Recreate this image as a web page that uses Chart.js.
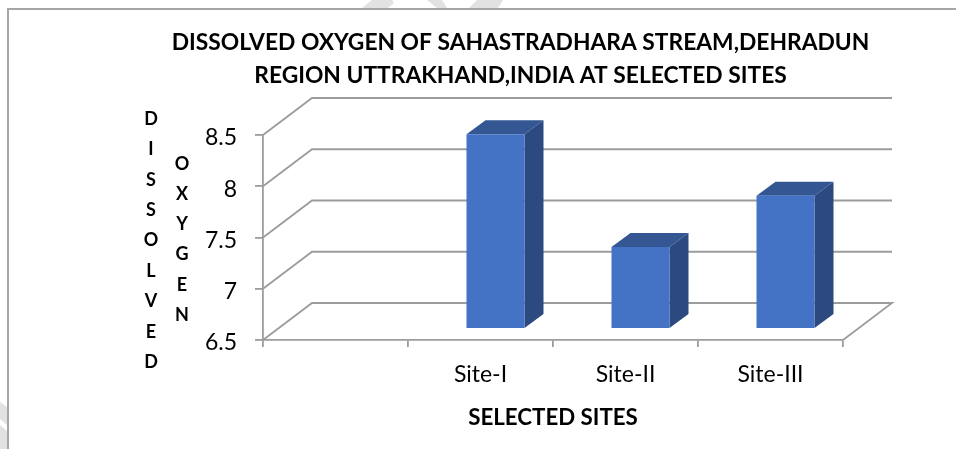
<!DOCTYPE html>
<html><head><meta charset="utf-8">
<style>html,body{margin:0;padding:0;background:#fff;overflow:hidden}canvas{display:block}</style>
<script src="https://cdn.jsdelivr.net/npm/chart.js@4"></script>
</head><body>
<canvas id="c" width="956" height="449"></canvas>
<script>
const categories = ['', 'Site-I', 'Site-II', 'Site-III'];
const oxygenValues = [null, 8.4, 7.3, 7.8];
const yTicks = [6.5, 7, 7.5, 8, 8.5];
const titleLines = ['DISSOLVED OXYGEN OF SAHASTRADHARA STREAM,DEHRADUN', 'REGION UTTRAKHAND,INDIA AT SELECTED SITES'];
const xTitle = 'SELECTED SITES';
const yTitleWord1 = 'DISSOLVED';
const yTitleWord2 = 'OXYGEN';

const FONT = 'Lato, Carlito, Calibri, sans-serif';
const GRID = '#9c9c9c';
const LINE = 1.8;
const WALL_DX = 49, WALL_DY = -37;
const BAR_DX = 15, BAR_DY = -11;
const SIDE_DX = 19, SIDE_DY = -14;

const threeD = {
  id: 'threeD',
  beforeDraw(chart) {
    const c = chart.ctx;
    c.save();
    c.fillStyle = '#e2e2e2';
    [[[362,8],[372,0],[392,0],[394,3],[388,8]],
     [[427,0],[442,0],[447,8],[437,8]],
     [[477,0],[503,0],[498,8],[469,8]],
     [[0,402],[7,407],[7,425],[0,419]],
     [[0,425],[7,431],[7,449],[0,449]]].forEach(p => {
      c.beginPath();
      p.forEach((q, i) => i ? c.lineTo(q[0], q[1]) : c.moveTo(q[0], q[1]));
      c.closePath(); c.fill();
    });
    c.strokeStyle = '#a6a6a6'; c.lineWidth = 2;
    c.beginPath(); c.moveTo(8, 449); c.lineTo(8, 9); c.lineTo(956, 9); c.stroke();
    c.font = 'bold 18px ' + FONT;
    c.fillStyle = '#000'; c.textAlign = 'center'; c.textBaseline = 'middle';
    [...yTitleWord1].forEach((ch, i) => c.fillText(ch, 151, 119 + i * 30.4));
    [...yTitleWord2].forEach((ch, i) => c.fillText(ch, 182, 164 + i * 30.2));
    c.restore();
  },
  beforeDatasetsDraw(chart) {
    const c = chart.ctx, { left, right } = chart.chartArea, y = chart.scales.y;
    c.save();
    c.strokeStyle = GRID; c.lineWidth = LINE;
    yTicks.forEach(v => {
      const py = y.getPixelForValue(v);
      c.beginPath();
      c.moveTo(left, py);
      c.lineTo(left + WALL_DX, py + WALL_DY);
      c.lineTo(right + WALL_DX, py + WALL_DY);
      if (v === yTicks[0]) c.lineTo(right, py);
      c.stroke();
    });
    c.restore();
  },
  beforeDatasetDraw(chart) {
    const c = chart.ctx;
    c.save();
    c.translate(BAR_DX, BAR_DY);
    chart.getDatasetMeta(0).data.forEach((el, i) => {
      if (oxygenValues[i] === null) return;
      const x1 = el.x - el.width / 2, x2 = el.x + el.width / 2, t = el.y, b = el.base;
      c.fillStyle = '#345794';
      c.beginPath(); c.moveTo(x1, t); c.lineTo(x1 + SIDE_DX, t + SIDE_DY); c.lineTo(x2 + SIDE_DX, t + SIDE_DY); c.lineTo(x2, t); c.closePath(); c.fill();
      c.fillStyle = '#2c4a80';
      c.beginPath(); c.moveTo(x2, t); c.lineTo(x2 + SIDE_DX, t + SIDE_DY); c.lineTo(x2 + SIDE_DX, b + SIDE_DY); c.lineTo(x2, b); c.closePath(); c.fill();
    });
  },
  afterDatasetDraw(chart) { chart.ctx.restore(); }
};

new Chart(document.getElementById('c'), {
  type: 'bar',
  plugins: [threeD],
  data: { labels: categories, datasets: [{ data: oxygenValues, base: 6.5, backgroundColor: '#4472C4', borderWidth: 0, barPercentage: 0.4, categoryPercentage: 1, clip: false }] },
  options: {
    responsive: false, animation: false,
    layout: { padding: { left: 85, right: 0, top: 26, bottom: 0 } },
    plugins: {
      legend: { display: false }, tooltip: { enabled: false },
      title: { display: true, text: titleLines, color: '#000', font: { family: FONT, size: 22.8, weight: 'bold', lineHeight: 1.447 }, padding: { top: 0, bottom: 43 } }
    },
    scales: {
      x: {
        grid: { display: true, drawOnChartArea: false, color: GRID, tickLength: 7, lineWidth: LINE, offset: true },
        border: { color: GRID, width: LINE },
        ticks: { color: '#000', font: { family: FONT, size: 23 }, padding: 14, maxRotation: 0 },
        title: { display: true, text: xTitle, color: '#000', font: { family: FONT, size: 22.3, weight: 'bold', lineHeight: 1.2 }, padding: { top: 0, bottom: 18 } },
        afterFit(s) { s.height = 109; }
      },
      y: {
        min: 6.5, max: 8.5,
        afterBuildTicks(s) { s.ticks = yTicks.map(v => ({ value: v })); },
        grid: { display: true, drawOnChartArea: false, color: GRID, tickLength: 8, lineWidth: LINE },
        border: { color: GRID, width: LINE },
        ticks: { color: '#000', font: { family: FONT, size: 23, lineHeight: 0.26 }, padding: 18, callback: v => ['', String(v)] },
        afterFit(s) { s.width = 178; }
      },
      rightSpace: {
        position: 'right', display: true,
        grid: { display: false }, border: { display: false }, ticks: { display: false },
        afterFit(s) { s.width = 113; }
      }
    }
  }
});
</script>
</body></html>
